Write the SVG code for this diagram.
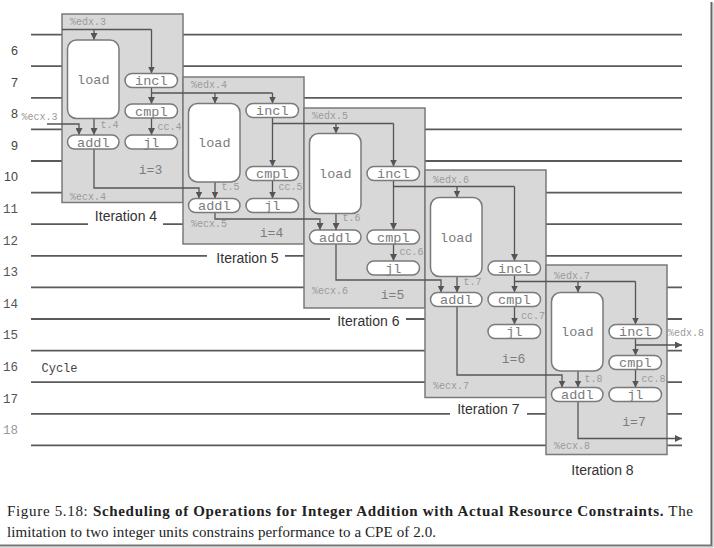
<svg xmlns="http://www.w3.org/2000/svg" width="714" height="548" viewBox="0 0 714 548">
<defs>
<marker id="ah" viewBox="0 0 8 8" refX="8" refY="4" markerWidth="7" markerHeight="7" markerUnits="userSpaceOnUse" orient="auto">
<path d="M0,0 L8,4 L0,8 z" fill="#555"/>
</marker>
</defs>
<style>
.grid line{stroke:#5a5a5a;stroke-width:1.8}
.cyc{font-family:"Liberation Sans",Arial,sans-serif;font-size:12.5px;fill:#444;text-anchor:end}
.cycm{font-family:"Liberation Mono","Courier New",monospace;font-size:12.5px;fill:#555;text-anchor:end}
.box{fill:#d8d8d8;stroke:#7a7a7a;stroke-width:1.5}
.op{fill:#fff;stroke:#7a7a7a;stroke-width:1.5}
.opt{font-family:"Liberation Mono","Courier New",monospace;font-size:13.5px;fill:#7c7c7c;text-anchor:middle}
.sm{font-family:"Liberation Mono","Courier New",monospace;font-size:10px;fill:#9a9a9a}
.iv{font-family:"Liberation Mono","Courier New",monospace;font-size:13px;fill:#7c7c7c;text-anchor:middle}
.it{font-family:"Liberation Sans",Arial,sans-serif;font-size:14px;fill:#333;text-anchor:middle}
.conn path{fill:none;stroke:#555;stroke-width:1.3}
.arr{marker-end:url(#ah)}
.cap{font-family:"Liberation Serif","Times New Roman",serif;font-size:15px;fill:#222}
</style>
<rect width="714" height="548" fill="#fff"/>
<!-- grid -->
<g class="grid">
<line x1="31" y1="34.6" x2="682" y2="34.6"/>
<line x1="31" y1="66.2" x2="682" y2="66.2"/>
<line x1="31" y1="97.8" x2="682" y2="97.8"/>
<line x1="31" y1="129.4" x2="682" y2="129.4"/>
<line x1="31" y1="161" x2="682" y2="161"/>
<line x1="31" y1="192.6" x2="682" y2="192.6"/>
<line x1="31" y1="224.2" x2="682" y2="224.2"/>
<line x1="31" y1="255.8" x2="682" y2="255.8"/>
<line x1="31" y1="287.4" x2="682" y2="287.4"/>
<line x1="31" y1="319" x2="682" y2="319"/>
<line x1="31" y1="350.6" x2="682" y2="350.6"/>
<line x1="31" y1="382.2" x2="682" y2="382.2"/>
<line x1="31" y1="413.8" x2="682" y2="413.8"/>
<line x1="31" y1="445.4" x2="682" y2="445.4"/>
</g>
<g id="cycles">
<text class="cyc" x="18" y="55">6</text>
<text class="cyc" x="18" y="86.5">7</text>
<text class="cyc" x="18" y="118">8</text>
<text class="cyc" x="18" y="149.7">9</text>
<text class="cyc" x="18" y="181.3">10</text>
<text class="cycm" x="18" y="213">11</text>
<text class="cycm" x="18" y="244.5">12</text>
<text class="cycm" x="18" y="276">13</text>
<text class="cycm" x="18" y="307.7">14</text>
<text class="cycm" x="18" y="339.3">15</text>
<text class="cycm" x="18" y="371">16</text>
<text class="cycm" x="18" y="402.5">17</text>
<text class="cycm" x="18" y="434" style="fill:#9a9a9a">18</text>
<text x="41.5" y="372" font-family="Liberation Mono, Courier New, monospace" font-size="12px" fill="#444">Cycle</text>
</g>
<!-- iteration labels -->
<g id="iterlabels">
<rect x="88" y="220" width="75" height="7" fill="#fff"/>
<text class="it" x="126" y="220.7">Iteration 4</text>
<rect x="207" y="251" width="78" height="8" fill="#fff"/>
<text class="it" x="247.5" y="262.5">Iteration 5</text>
<rect x="330" y="315" width="76" height="8" fill="#fff"/>
<text class="it" x="368.3" y="325.5">Iteration 6</text>
<rect x="450" y="410" width="77" height="7" fill="#fff"/>
<text class="it" x="488.3" y="414">Iteration 7</text>
<text class="it" x="602.5" y="475">Iteration 8</text>
</g>
<!-- iteration boxes -->
<g id="boxes">
<g id="box-iter4">
<rect class="box" x="62" y="14" width="121" height="188.5"/>
<text class="sm" x="70" y="24.5">%edx.3</text>
<text class="sm" x="70" y="199.5">%ecx.4</text>
<text class="sm" x="100.5" y="127.5">t.4</text>
<text class="sm" x="157.5" y="130">cc.4</text>
<text class="iv" x="150.5" y="173.5">i=3</text>
</g>
<g id="box-iter5">
<rect class="box" x="183" y="77" width="121" height="167"/>
<text class="sm" x="191" y="87.5">%edx.4</text>
<text class="sm" x="191" y="227">%ecx.5</text>
<text class="sm" x="221.5" y="190">t.5</text>
<text class="sm" x="278.5" y="190">cc.5</text>
<text class="iv" x="271.5" y="237">i=4</text>
</g>
<g id="box-iter6">
<rect class="box" x="304" y="108" width="121" height="200"/>
<text class="sm" x="312" y="118.5">%edx.5</text>
<text class="sm" x="312" y="293.5">%ecx.6</text>
<text class="sm" x="342.5" y="221">t.6</text>
<text class="sm" x="399.5" y="255">cc.6</text>
<text class="iv" x="392.5" y="298.5">i=5</text>
</g>
<g id="box-iter7">
<rect class="box" x="425" y="170" width="121" height="227.5"/>
<text class="sm" x="433" y="182.5">%edx.6</text>
<text class="sm" x="433" y="389">%ecx.7</text>
<text class="sm" x="463.5" y="285">t.7</text>
<text class="sm" x="521" y="318.5">cc.7</text>
<text class="iv" x="513.5" y="363">i=6</text>
</g>
<g id="box-iter8">
<rect class="box" x="546" y="265" width="121" height="189.5"/>
<text class="sm" x="554" y="278.5">%edx.7</text>
<text class="sm" x="554" y="449">%ecx.8</text>
<text class="sm" x="584.5" y="381.5">t.8</text>
<text class="sm" x="641.5" y="381.5">cc.8</text>
<text class="iv" x="634" y="426">i=7</text>
</g>
<text class="sm" x="21.5" y="119.5">%ecx.3</text>
<text class="sm" x="668" y="336">%edx.8</text>
</g>
<!-- connectors -->
<g id="connectors" class="conn">
<path d="M62,29.5 H151.5"/>
<path class="arr" d="M151.5,29.5 V73.5"/>
<path class="arr" d="M94,29.5 V40"/>
<path class="arr" d="M151.5,87.5 V104"/>
<path d="M151.5,93 H272.5"/>
<path class="arr" d="M272.5,93 V103.5"/>
<path class="arr" d="M215,93 V103.5"/>
<path class="arr" d="M272.5,117.5 V166.5"/>
<path d="M272.5,123.5 H393.5"/>
<path class="arr" d="M393.5,123.5 V166.5"/>
<path class="arr" d="M336,123.5 V133.5"/>
<path class="arr" d="M393.5,180.5 V230"/>
<path d="M393.5,186.5 H514.5"/>
<path class="arr" d="M514.5,186.5 V261"/>
<path class="arr" d="M457,186.5 V197.5"/>
<path class="arr" d="M514.5,275 V292.5"/>
<path d="M514.5,281.5 H635.5"/>
<path class="arr" d="M635.5,281.5 V324.5"/>
<path class="arr" d="M578,281.5 V292.5"/>
<path class="arr" d="M635.5,338.5 V355.5"/>
<path class="arr" d="M635.5,345 H682"/>
<path class="arr" d="M151.5,118 V135"/>
<path class="arr" d="M272.5,180.5 V198.5"/>
<path class="arr" d="M393.5,244 V261"/>
<path class="arr" d="M514.5,306.5 V324.5"/>
<path class="arr" d="M635.5,369.5 V387.5"/>
<path class="arr" d="M94,118.5 V135"/>
<path class="arr" d="M215,182 V198.5"/>
<path class="arr" d="M336,213.5 V230"/>
<path class="arr" d="M457,276.5 V292.5"/>
<path class="arr" d="M578,371 V387.5"/>
<path class="arr" d="M47,124 H79 V135"/>
<path class="arr" d="M94,149 V188 H199 V198.5"/>
<path class="arr" d="M215,212.5 V219 H320 V230"/>
<path class="arr" d="M336,244 V280 H441 V292.5"/>
<path class="arr" d="M457,306.5 V375 H562 V387.5"/>
<path class="arr" d="M578,401.5 V438.5 H682"/>
</g>
<!-- operation nodes -->
<g id="nodes">
<g id="load4"><rect class="op" x="67.5" y="40" width="51.5" height="78.5" rx="9"/><text class="opt" x="93.3" y="84">load</text></g>
<g id="incl4"><rect class="op" x="125" y="73.5" width="52.5" height="14" rx="7"/><text class="opt" x="151.3" y="85">incl</text></g>
<g id="cmpl4"><rect class="op" x="125" y="104" width="52.5" height="14" rx="7"/><text class="opt" x="151.3" y="115.5">cmpl</text></g>
<g id="jl4"><rect class="op" x="125" y="135" width="52.5" height="14" rx="7"/><text class="opt" x="151.3" y="146.5">jl</text></g>
<g id="addl4"><rect class="op" x="67.5" y="135" width="51.5" height="14" rx="7"/><text class="opt" x="93.3" y="146.5">addl</text></g>

<g id="load5"><rect class="op" x="188.5" y="103.5" width="51.5" height="78.5" rx="9"/><text class="opt" x="214.3" y="147">load</text></g>
<g id="incl5"><rect class="op" x="246" y="103.5" width="52.5" height="14" rx="7"/><text class="opt" x="272.3" y="115">incl</text></g>
<g id="cmpl5"><rect class="op" x="246" y="166.5" width="52.5" height="14" rx="7"/><text class="opt" x="272.3" y="178">cmpl</text></g>
<g id="jl5"><rect class="op" x="246" y="198.5" width="52.5" height="14" rx="7"/><text class="opt" x="272.3" y="210">jl</text></g>
<g id="addl5"><rect class="op" x="188.5" y="198.5" width="51.5" height="14" rx="7"/><text class="opt" x="214.3" y="210">addl</text></g>

<g id="load6"><rect class="op" x="309.5" y="133.5" width="51.5" height="80" rx="9"/><text class="opt" x="335.3" y="178">load</text></g>
<g id="incl6"><rect class="op" x="367" y="166.5" width="52.5" height="14" rx="7"/><text class="opt" x="393.3" y="178">incl</text></g>
<g id="cmpl6"><rect class="op" x="367" y="230" width="52.5" height="14" rx="7"/><text class="opt" x="393.3" y="241.5">cmpl</text></g>
<g id="jl6"><rect class="op" x="367" y="261" width="52.5" height="14" rx="7"/><text class="opt" x="393.3" y="272.5">jl</text></g>
<g id="addl6"><rect class="op" x="309.5" y="230" width="51.5" height="14" rx="7"/><text class="opt" x="335.3" y="241.5">addl</text></g>

<g id="load7"><rect class="op" x="430.5" y="197.5" width="51.5" height="79" rx="9"/><text class="opt" x="456.3" y="241.5">load</text></g>
<g id="incl7"><rect class="op" x="488" y="261" width="52.5" height="14" rx="7"/><text class="opt" x="514.3" y="272.5">incl</text></g>
<g id="cmpl7"><rect class="op" x="488" y="292.5" width="52.5" height="14" rx="7"/><text class="opt" x="514.3" y="304">cmpl</text></g>
<g id="jl7"><rect class="op" x="488" y="324.5" width="52.5" height="14" rx="7"/><text class="opt" x="514.3" y="336">jl</text></g>
<g id="addl7"><rect class="op" x="430.5" y="292.5" width="51.5" height="14" rx="7"/><text class="opt" x="456.3" y="304">addl</text></g>

<g id="load8"><rect class="op" x="551.5" y="292.5" width="51.5" height="78.5" rx="9"/><text class="opt" x="577.3" y="336">load</text></g>
<g id="incl8"><rect class="op" x="609" y="324.5" width="52.5" height="14" rx="7"/><text class="opt" x="635.3" y="336">incl</text></g>
<g id="cmpl8"><rect class="op" x="609" y="355.5" width="52.5" height="14" rx="7"/><text class="opt" x="635.3" y="367">cmpl</text></g>
<g id="jl8"><rect class="op" x="609" y="387.5" width="52.5" height="14" rx="7"/><text class="opt" x="635.3" y="399">jl</text></g>
<g id="addl8"><rect class="op" x="551.5" y="387.5" width="51.5" height="14" rx="7"/><text class="opt" x="577.3" y="399">addl</text></g>
</g>
<!-- caption -->
<g id="caption">
<text class="cap" x="7" y="516" textLength="686" lengthAdjust="spacing">Figure 5.18: <tspan font-weight="bold">Scheduling of Operations for Integer Addition with Actual Resource Constraints.</tspan>  The</text>
<text class="cap" x="7" y="537" textLength="429" lengthAdjust="spacing">limitation to two integer units constrains performance to a CPE of 2.0.</text>
</g>
<!-- frame shadow -->
<g id="frame">
<line x1="711.5" y1="2" x2="711.5" y2="546" stroke="#666" stroke-width="2"/>
<line x1="713" y1="3" x2="713" y2="547" stroke="#bbb" stroke-width="1"/>
<line x1="0" y1="545.5" x2="712" y2="545.5" stroke="#777" stroke-width="2"/>
<line x1="0" y1="547" x2="713" y2="547" stroke="#bbb" stroke-width="1"/>
</g>
</svg>
